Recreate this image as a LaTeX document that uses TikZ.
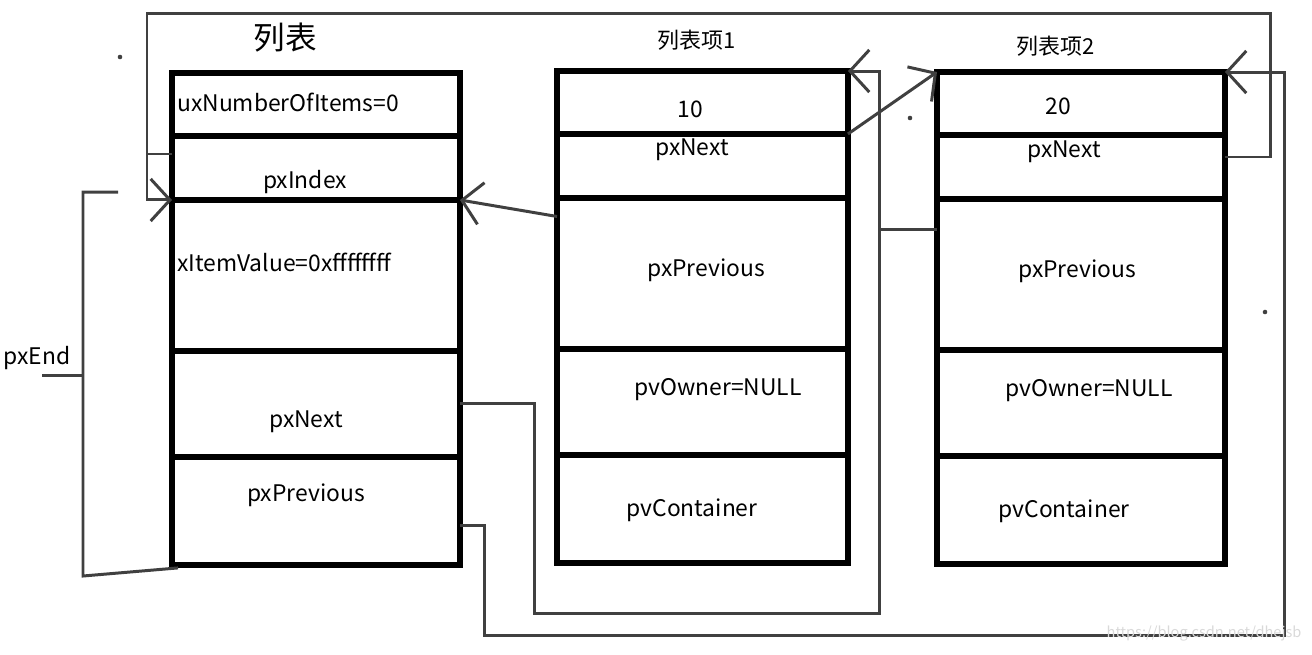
\documentclass[tikz,border=0pt]{standalone}
\usepackage{fontspec}
\setmainfont{Noto Sans CJK SC}
\usetikzlibrary{positioning,calc,arrows.meta}

\definecolor{linkgray}{HTML}{404040}
\tikzset{
  cell/.style={draw,line width=3.4pt,inner sep=0pt,outer sep=0pt,minimum width=5.76cm},
  link/.style={draw=linkgray,line width=1.7pt},
  barb/.style={-{Straight Barb[length=11pt,width=24pt]}},
  lbl/.style={font=\fontsize{13}{15}\selectfont,inner sep=0pt},
}

\begin{document}
\begin{tikzpicture}[x=0.02cm,y=-0.02cm]
\useasboundingbox (0,0) rectangle (1312,654);

% List (xListEnd)
\node[cell,minimum height=1.26cm,anchor=north west] (lnum) at (172,73) {};
\node[cell,minimum height=1.28cm,below=0pt of lnum] (lidx) {};
\node[cell,minimum height=3.02cm,below=0pt of lidx] (lval) {};
\node[cell,minimum height=2.12cm,below=0pt of lval] (lnext) {};
\node[cell,minimum height=2.16cm,below=0pt of lnext] (lprev) {};

% List item 1
\node[cell,minimum width=5.82cm,minimum height=1.26cm,anchor=north west] (i1val) at (557,71) {};
\node[cell,minimum width=5.82cm,minimum height=1.28cm,below=0pt of i1val] (i1next) {};
\node[cell,minimum width=5.82cm,minimum height=3.02cm,below=0pt of i1next] (i1prev) {};
\node[cell,minimum width=5.82cm,minimum height=2.12cm,below=0pt of i1prev] (i1own) {};
\node[cell,minimum width=5.82cm,minimum height=2.16cm,below=0pt of i1own] (i1cont) {};

% List item 2
\node[cell,minimum height=1.26cm,anchor=north west] (i2val) at (937,72) {};
\node[cell,minimum height=1.28cm,below=0pt of i2val] (i2next) {};
\node[cell,minimum height=3.02cm,below=0pt of i2next] (i2prev) {};
\node[cell,minimum height=2.12cm,below=0pt of i2prev] (i2own) {};
\node[cell,minimum height=2.16cm,below=0pt of i2own] (i2cont) {};

% Titles
\node[lbl,font=\fontsize{18}{20}\selectfont] (ltitle) at (285,38) {列表};
\node[lbl,font=\fontsize{12.5}{14}\selectfont] (i1title) at (697,40) {列表项1};
\node[lbl,font=\fontsize{12.5}{14}\selectfont] (i2title) at (1056,46) {列表项2};

% Field texts
\node[lbl,anchor=west] (tnum) at (177,102) {uxNumberOfItems=0};
\node[lbl] (tidx) at (305,182) {pxIndex};
\node[lbl,anchor=west] (tval) at (177,262) {xItemValue=0xffffffff};
\node[lbl] (tnext) at (306,422) {pxNext};
\node[lbl] (tprev) at (306,495) {pxPrevious};
\node[lbl] (t1val) at (690,109) {10};
\node[lbl] (t1next) at (692,150) {pxNext};
\node[lbl] (t1prev) at (706,270) {pxPrevious};
\node[lbl] (t1own) at (718,390) {pvOwner=NULL};
\node[lbl] (t1cont) at (692,510) {pvContainer};
\node[lbl] (t2val) at (1058,106) {20};
\node[lbl] (t2next) at (1064,152) {pxNext};
\node[lbl] (t2prev) at (1077,271) {pxPrevious};
\node[lbl] (t2own) at (1089,391) {pvOwner=NULL};
\node[lbl] (t2cont) at (1064,511) {pvContainer};
\node[lbl] (pxend) at (37,358) {pxEnd};

% Links between items
\draw[link,barb] (i1next.north east) -- (i2val.north west);
\draw[link,barb] ([yshift=1.14cm]i1prev.west) -- (lval.north east);
\draw[link,barb] (lnext.east) -- ++(75,0) -- ++(0,210) -| ($(i1val.north east)+(32,0)$) -- (i1val.north east);
\draw[link] ([yshift=0.89cm]i2prev.west) -- ++(-57,0);
\draw[link,barb] ([yshift=-0.3cm]lprev.east) -- ++(25,0) -- ++(0,110) -| ($(i2val.north east)+(60,0)$) -- (i2val.north east);
\draw[link,barb] ([yshift=0.2cm]i2next.east) -- ++(46,0) |- ($(lval.north west)+(-25,-186)$) |- (lval.north west);
\draw[link] ([yshift=0.28cm]lidx.west) -- ++(-25,0);

% pxEnd bracket
\coordinate (endtop) at (118,192);
\coordinate (endmid) at (83,375);
\draw[link] (endtop) -- ++(-35,0) -- ++(0,384) -- ($(lprev.south west)+(6,3)$);
\draw[link] (endmid) -- ++(-41,0);

% stray pen dots
\fill[linkgray] (120,57) circle (1.3pt);
\fill[linkgray] (910,118) circle (1.3pt);
\fill[linkgray] (1265,312) circle (1.3pt);

% watermark
\node[font=\fontsize{8.3}{10}\selectfont,text=gray!30,inner sep=0pt] (mark) at (1204,634) {https://blog.csdn.net/dhejsb};

\end{tikzpicture}
\end{document}
